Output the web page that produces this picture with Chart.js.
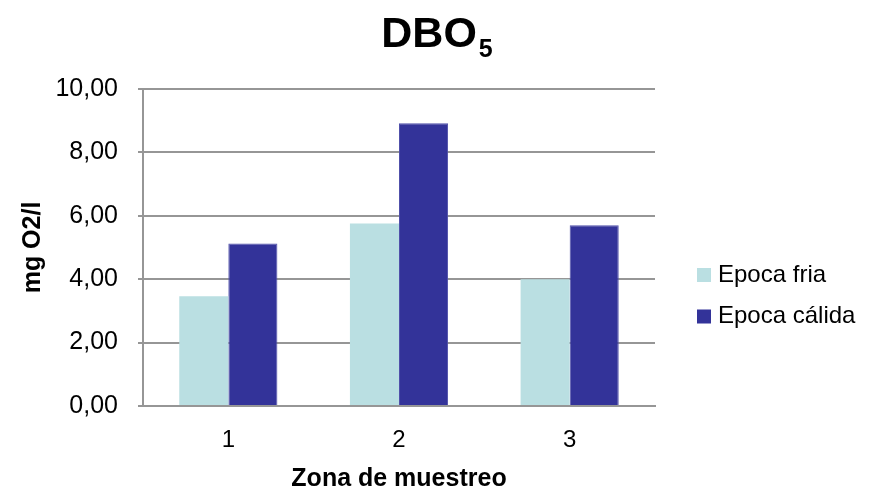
<!DOCTYPE html>
<html>
<head>
<meta charset="utf-8">
<script src="https://cdn.jsdelivr.net/npm/chart.js@4"></script>
<style>
  html, body { margin: 0; padding: 0; background: #fff; }
  #wrap { width: 883px; height: 489px; }
</style>
</head>
<body>
<div id="wrap"><canvas id="dboChart" width="883" height="489"></canvas></div>
<script>
// data
const zonas = ['1', '2', '3'];
const epocaFria = [3.46, 5.76, 4.00];
const epocaCalida = [5.13, 8.92, 5.70];
const seriesNames = ['Epoca fria', 'Epoca cálida'];
const yTicks = [0, 2, 4, 6, 8, 10];

const FONT = "'Liberation Sans', Arial, sans-serif";
const gridColor = '#969696';

// title with subscript 5
const titlePlugin = {
    id: 'dboTitle',
    afterDraw(chart) {
        const ctx = chart.ctx;
        ctx.save();
        ctx.fillStyle = '#000';
        ctx.textBaseline = 'alphabetic';
        ctx.font = 'bold 43px ' + FONT;
        const mainW = ctx.measureText('DBO').width;
        ctx.font = 'bold 25px ' + FONT;
        const subW = ctx.measureText('5').width;
        const startX = 437 - (mainW + subW + 2) / 2;
        ctx.font = 'bold 43px ' + FONT;
        ctx.fillText('DBO', startX, 47);
        ctx.font = 'bold 25px ' + FONT;
        ctx.fillText('5', startX + mainW + 2, 57);
        ctx.restore();
    }
};

// legend to the right of the plot
const legendPlugin = {
    id: 'sideLegend',
    afterDraw(chart) {
        const ctx = chart.ctx;
        ctx.save();
        ctx.font = '24px ' + FONT;
        ctx.textBaseline = 'middle';
        chart.data.datasets.forEach((ds, i) => {
            const cy = 275 + i * 41.5;
            ctx.fillStyle = ds.backgroundColor;
            ctx.fillRect(697, cy - 7, 14, 14);
            ctx.fillStyle = '#000';
            ctx.fillText(ds.label, 718, cy);
        });
        ctx.restore();
    }
};

new Chart(document.getElementById('dboChart'), {
    type: 'bar',
    data: {
        labels: zonas,
        datasets: [{
            label: seriesNames[0],
            data: epocaFria,
            backgroundColor: '#badfe2',
            borderWidth: 0
        }, {
            label: seriesNames[1],
            data: epocaCalida,
            backgroundColor: '#333399',
            borderColor: '#5050aa',
            borderWidth: 1
        }]
    },
    options: {
        responsive: false,
        animation: false,
        layout: { padding: { left: 0, top: 89, right: 228, bottom: 0 } },
        plugins: {
            legend: { display: false },
            title: { display: false },
            tooltip: { enabled: false }
        },
        datasets: {
            bar: { categoryPercentage: 0.575, barPercentage: 1.0 }
        },
        scales: {
            x: {
                grid: { display: false },
                border: { display: true, color: gridColor, width: 2 },
                ticks: { color: '#000', font: { family: FONT, size: 24 }, padding: 12 },
                title: {
                    display: true,
                    text: 'Zona de muestreo',
                    color: '#000',
                    font: { family: FONT, size: 25, weight: 'bold', lineHeight: 0.8 },
                    padding: { top: 0, bottom: 0 }
                },
                afterFit(scale) { scale.height = 83; }
            },
            y: {
                min: yTicks[0],
                max: yTicks[yTicks.length - 1],
                afterBuildTicks(scale) { scale.ticks = yTicks.map(v => ({ value: v })); },
                grid: { color: gridColor, lineWidth: 2, tickLength: 5 },
                border: { display: true, color: gridColor, width: 2 },
                ticks: {
                    color: '#000',
                    font: { family: FONT, size: 25 },
                    padding: 20,
                    callback: v => v.toFixed(2).replace('.', ',')
                },
                title: {
                    display: true,
                    text: 'mg O2/l',
                    color: '#000',
                    font: { family: FONT, size: 25, weight: 'bold', lineHeight: 1 },
                    padding: { top: 21, bottom: 0 }
                },
                afterFit(scale) { scale.width = 143; }
            }
        }
    },
    plugins: [titlePlugin, legendPlugin]
});
</script>
</body>
</html>
